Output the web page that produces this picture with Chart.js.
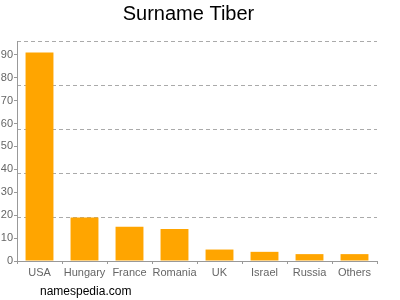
<!DOCTYPE html><html><head>
    <title>Surname Tiber</title>
    <style>
        body { margin: 0; background: #fff; }
    </style>
</head>
<body>
    <canvas id="chart" width="400" height="300"></canvas>
    <script src="https://cdn.jsdelivr.net/npm/chart.js"></script>
    <script>
        const countries = ['USA', 'Hungary', 'France', 'Romania', 'UK', 'Israel', 'Russia', 'Others'];
        const counts = [91, 19, 15, 14, 5, 4, 3, 3];
        const yTicks = [0, 10, 20, 30, 40, 50, 60, 70, 80, 90];
        const yMax = 96;

        Chart.defaults.font.family = "'Liberation Sans', Arial, Helvetica";

        // writes the site name under the axis
        const footer = {
            id: 'footer',
            afterDraw(chart) {
                const c = chart.ctx;
                c.save();
                c.font = "12px 'Liberation Sans', Arial";
                c.fillStyle = '#000';
                c.textBaseline = 'middle';
                c.fillText('namespedia.com', 40, 292);
                c.restore();
            }
        };

        const ctx = document.getElementById('chart').getContext('2d');
        const chart = new Chart(ctx, {
            type: 'bar',
            data: {
                labels: countries,
                datasets: [{
                    data: counts,
                    backgroundColor: '#FFA500',
                    borderWidth: 0,
                    categoryPercentage: 1,
                    barPercentage: 0.62
                }]
            },
            options: {
                responsive: false,
                animation: false,
                layout: { padding: { left: 0, right: 23, top: 0, bottom: 0 } },
                plugins: {
                    legend: { display: false },
                    tooltip: { enabled: false },
                    title: {
                        display: true,
                        text: 'Surname Tiber',
                        color: '#000',
                        font: { size: 20, weight: 'normal' },
                        padding: { top: 2, bottom: 15 }
                    }
                },
                scales: {
                    x: {
                        grid: { drawOnChartArea: false, tickLength: 3, color: '#999' },
                        border: { color: '#999' },
                        ticks: { color: '#666', font: { size: 11 }, padding: 2, maxRotation: 0, autoSkip: false },
                        afterFit(scale) { scale.height = 39; }
                    },
                    y: {
                        position: 'left',
                        min: 0,
                        max: yMax,
                        grid: { drawOnChartArea: false, tickLength: 3, color: '#999' },
                        border: { color: '#999' },
                        ticks: {
                            color: '#666',
                            font: { size: 11 },
                            padding: 1,
                            stepSize: 10,
                            includeBounds: false,
                            callback: (v) => yTicks.includes(v) ? v : null
                        },
                        afterFit(scale) { scale.width = 17; }
                    },
                    y2: {
                        position: 'left',
                        min: 0,
                        max: yMax,
                        ticks: { display: false, count: 6 },
                        grid: { drawTicks: false, color: '#aaa', lineWidth: 1 },
                        border: { display: false, dash: [4, 3] },
                        afterFit(scale) { scale.width = 0; }
                    }
                }
            },
            plugins: [footer]
        });
    </script>
</body></html>
